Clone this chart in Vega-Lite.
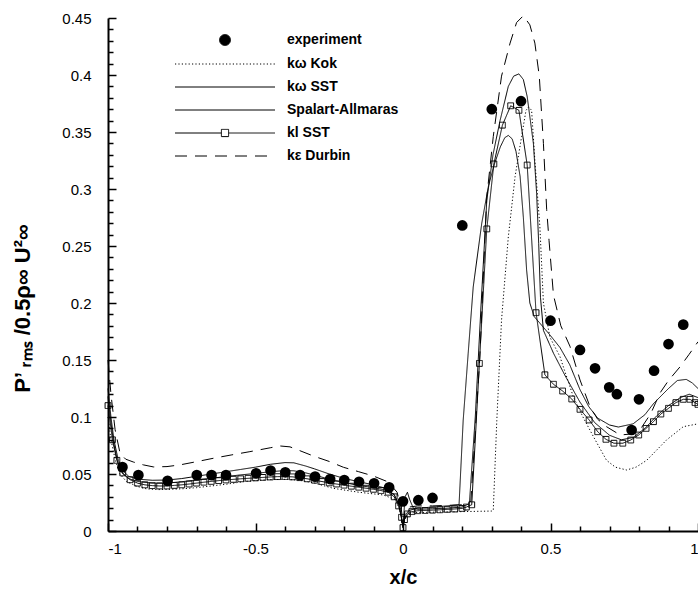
{
  "$schema": "https://vega.github.io/schema/vega-lite/v6.json",
  "width": 590,
  "height": 513,
  "autosize": {"type": "none"},
  "padding": {"left": 108, "top": 18, "right": 0, "bottom": 59},
  "config": {
    "view": {"stroke": null},
    "font": "Liberation Sans",
    "axis": {"grid": false, "domainColor": "black", "domainWidth": 2, "tickColor": "black", "tickWidth": 1.5, "labelColor": "black", "labelFontSize": 15, "labelFont": "Liberation Sans", "titleColor": "black", "titleFont": "Liberation Sans", "titleFontWeight": "bold", "titleFontSize": 20}
  },
  "datasets": {
    "exp": [
      {"x": -0.951, "y": 0.056}, {"x": -0.897, "y": 0.049}, {"x": -0.798, "y": 0.044}, {"x": -0.699, "y": 0.049},
      {"x": -0.649, "y": 0.049}, {"x": -0.6, "y": 0.049}, {"x": -0.498, "y": 0.0506}, {"x": -0.449, "y": 0.053},
      {"x": -0.399, "y": 0.0515}, {"x": -0.349, "y": 0.049}, {"x": -0.298, "y": 0.0477}, {"x": -0.247, "y": 0.0456},
      {"x": -0.199, "y": 0.0447}, {"x": -0.149, "y": 0.0432}, {"x": -0.098, "y": 0.0418}, {"x": -0.047, "y": 0.0383},
      {"x": 0.0, "y": 0.026}, {"x": 0.052, "y": 0.027}, {"x": 0.1, "y": 0.029}, {"x": 0.201, "y": 0.268},
      {"x": 0.301, "y": 0.37}, {"x": 0.4, "y": 0.377}, {"x": 0.5, "y": 0.1845}, {"x": 0.6, "y": 0.1588},
      {"x": 0.651, "y": 0.1427}, {"x": 0.699, "y": 0.126}, {"x": 0.725, "y": 0.12}, {"x": 0.775, "y": 0.0886},
      {"x": 0.8, "y": 0.1155}, {"x": 0.851, "y": 0.1406}, {"x": 0.9, "y": 0.164}, {"x": 0.95, "y": 0.181}
    ],
    "kl": [
      {"x": -1, "y": 0.11}, {"x": -0.985, "y": 0.08}, {"x": -0.97, "y": 0.062}, {"x": -0.95, "y": 0.051}, {"x": -0.925, "y": 0.045},
      {"x": -0.9, "y": 0.042}, {"x": -0.875, "y": 0.0405}, {"x": -0.85, "y": 0.0398}, {"x": -0.825, "y": 0.0395}, {"x": -0.8, "y": 0.0395},
      {"x": -0.775, "y": 0.04}, {"x": -0.75, "y": 0.0405}, {"x": -0.725, "y": 0.0412}, {"x": -0.7, "y": 0.042}, {"x": -0.675, "y": 0.0428},
      {"x": -0.65, "y": 0.0435}, {"x": -0.625, "y": 0.0442}, {"x": -0.6, "y": 0.0448}, {"x": -0.575, "y": 0.0453}, {"x": -0.55, "y": 0.0458},
      {"x": -0.525, "y": 0.0462}, {"x": -0.5, "y": 0.0466}, {"x": -0.475, "y": 0.047}, {"x": -0.45, "y": 0.0474}, {"x": -0.425, "y": 0.0477},
      {"x": -0.4, "y": 0.0478}, {"x": -0.375, "y": 0.0475}, {"x": -0.35, "y": 0.0468}, {"x": -0.325, "y": 0.0458}, {"x": -0.3, "y": 0.0446},
      {"x": -0.275, "y": 0.0434}, {"x": -0.25, "y": 0.0422}, {"x": -0.225, "y": 0.0412}, {"x": -0.2, "y": 0.0402}, {"x": -0.175, "y": 0.0393},
      {"x": -0.15, "y": 0.0384}, {"x": -0.125, "y": 0.0375}, {"x": -0.1, "y": 0.0366}, {"x": -0.075, "y": 0.0355}, {"x": -0.05, "y": 0.034},
      {"x": -0.03, "y": 0.03}, {"x": -0.015, "y": 0.022}, {"x": -0.005, "y": 0.012}, {"x": 0, "y": 0.003}, {"x": 0.005, "y": 0.01},
      {"x": 0.015, "y": 0.015}, {"x": 0.03, "y": 0.017}, {"x": 0.05, "y": 0.0178}, {"x": 0.075, "y": 0.018}, {"x": 0.1, "y": 0.0183},
      {"x": 0.125, "y": 0.0186}, {"x": 0.15, "y": 0.019}, {"x": 0.175, "y": 0.0193}, {"x": 0.2, "y": 0.0198}, {"x": 0.215, "y": 0.021},
      {"x": 0.233, "y": 0.023}, {"x": 0.259, "y": 0.147}, {"x": 0.284, "y": 0.265}, {"x": 0.308, "y": 0.322}, {"x": 0.337, "y": 0.356},
      {"x": 0.365, "y": 0.373}, {"x": 0.393, "y": 0.369}, {"x": 0.421, "y": 0.321}, {"x": 0.451, "y": 0.1915}, {"x": 0.481, "y": 0.137},
      {"x": 0.51, "y": 0.1287}, {"x": 0.541, "y": 0.1228}, {"x": 0.572, "y": 0.1158}, {"x": 0.6, "y": 0.1067}, {"x": 0.631, "y": 0.0974},
      {"x": 0.66, "y": 0.0871}, {"x": 0.688, "y": 0.0804}, {"x": 0.715, "y": 0.077}, {"x": 0.745, "y": 0.077}, {"x": 0.772, "y": 0.0798},
      {"x": 0.799, "y": 0.0842}, {"x": 0.824, "y": 0.09}, {"x": 0.849, "y": 0.0959}, {"x": 0.874, "y": 0.1026}, {"x": 0.9, "y": 0.1076},
      {"x": 0.925, "y": 0.1126}, {"x": 0.95, "y": 0.1155}, {"x": 0.973, "y": 0.1155}, {"x": 0.99, "y": 0.1126}, {"x": 1.0, "y": 0.111}
    ],
    "sst": [
      {"x": -1, "y": 0.125}, {"x": -0.99, "y": 0.1}, {"x": -0.98, "y": 0.08}, {"x": -0.965, "y": 0.062}, {"x": -0.95, "y": 0.053},
      {"x": -0.93, "y": 0.048}, {"x": -0.9, "y": 0.0455}, {"x": -0.85, "y": 0.0445}, {"x": -0.8, "y": 0.0447}, {"x": -0.75, "y": 0.046},
      {"x": -0.7, "y": 0.048}, {"x": -0.65, "y": 0.05}, {"x": -0.6, "y": 0.052}, {"x": -0.55, "y": 0.054}, {"x": -0.5, "y": 0.056},
      {"x": -0.45, "y": 0.0585}, {"x": -0.4, "y": 0.06}, {"x": -0.37, "y": 0.0598}, {"x": -0.33, "y": 0.057}, {"x": -0.3, "y": 0.0545},
      {"x": -0.25, "y": 0.05}, {"x": -0.2, "y": 0.0462}, {"x": -0.15, "y": 0.0432}, {"x": -0.1, "y": 0.0405}, {"x": -0.06, "y": 0.0375},
      {"x": -0.03, "y": 0.032}, {"x": -0.012, "y": 0.022}, {"x": 0, "y": 0.003}, {"x": 0.008, "y": 0.014}, {"x": 0.02, "y": 0.018},
      {"x": 0.05, "y": 0.02}, {"x": 0.1, "y": 0.021}, {"x": 0.15, "y": 0.022}, {"x": 0.19, "y": 0.023}, {"x": 0.204, "y": 0.097},
      {"x": 0.221, "y": 0.156}, {"x": 0.238, "y": 0.214}, {"x": 0.267, "y": 0.27}, {"x": 0.29, "y": 0.303}, {"x": 0.31, "y": 0.322},
      {"x": 0.33, "y": 0.337}, {"x": 0.345, "y": 0.345}, {"x": 0.357, "y": 0.347}, {"x": 0.37, "y": 0.344}, {"x": 0.383, "y": 0.333},
      {"x": 0.397, "y": 0.311}, {"x": 0.408, "y": 0.275}, {"x": 0.419, "y": 0.229}, {"x": 0.43, "y": 0.2}, {"x": 0.445, "y": 0.188},
      {"x": 0.465, "y": 0.182}, {"x": 0.498, "y": 0.172}, {"x": 0.532, "y": 0.161}, {"x": 0.565, "y": 0.146}, {"x": 0.6, "y": 0.124},
      {"x": 0.63, "y": 0.109}, {"x": 0.66, "y": 0.099}, {"x": 0.7, "y": 0.093}, {"x": 0.73, "y": 0.0912}, {"x": 0.78, "y": 0.094},
      {"x": 0.82, "y": 0.102}, {"x": 0.85, "y": 0.112}, {"x": 0.9, "y": 0.125}, {"x": 0.93, "y": 0.132}, {"x": 0.96, "y": 0.133},
      {"x": 0.98, "y": 0.13}, {"x": 1.0, "y": 0.125}
    ],
    "sa": [
      {"x": -1, "y": 0.118}, {"x": -0.99, "y": 0.095}, {"x": -0.98, "y": 0.076}, {"x": -0.965, "y": 0.058}, {"x": -0.95, "y": 0.05},
      {"x": -0.93, "y": 0.046}, {"x": -0.9, "y": 0.0435}, {"x": -0.85, "y": 0.042}, {"x": -0.8, "y": 0.042}, {"x": -0.75, "y": 0.0432},
      {"x": -0.7, "y": 0.0448}, {"x": -0.65, "y": 0.0462}, {"x": -0.6, "y": 0.0478}, {"x": -0.55, "y": 0.0492}, {"x": -0.5, "y": 0.0505},
      {"x": -0.45, "y": 0.052}, {"x": -0.4, "y": 0.053}, {"x": -0.37, "y": 0.0528}, {"x": -0.33, "y": 0.051}, {"x": -0.3, "y": 0.049},
      {"x": -0.25, "y": 0.0455}, {"x": -0.2, "y": 0.0425}, {"x": -0.15, "y": 0.04}, {"x": -0.1, "y": 0.038}, {"x": -0.06, "y": 0.036},
      {"x": -0.03, "y": 0.032}, {"x": -0.012, "y": 0.022}, {"x": 0, "y": 0.004}, {"x": 0.007, "y": 0.03}, {"x": 0.015, "y": 0.034},
      {"x": 0.022, "y": 0.028}, {"x": 0.035, "y": 0.02}, {"x": 0.05, "y": 0.019}, {"x": 0.1, "y": 0.0195}, {"x": 0.15, "y": 0.02},
      {"x": 0.2, "y": 0.021}, {"x": 0.225, "y": 0.024}, {"x": 0.245, "y": 0.1}, {"x": 0.265, "y": 0.2}, {"x": 0.284, "y": 0.29},
      {"x": 0.305, "y": 0.33}, {"x": 0.329, "y": 0.36}, {"x": 0.357, "y": 0.39}, {"x": 0.375, "y": 0.399}, {"x": 0.393, "y": 0.401},
      {"x": 0.408, "y": 0.396}, {"x": 0.421, "y": 0.381}, {"x": 0.442, "y": 0.34}, {"x": 0.453, "y": 0.296}, {"x": 0.46, "y": 0.252},
      {"x": 0.466, "y": 0.205}, {"x": 0.476, "y": 0.176}, {"x": 0.51, "y": 0.156}, {"x": 0.55, "y": 0.136}, {"x": 0.6, "y": 0.113},
      {"x": 0.65, "y": 0.095}, {"x": 0.7, "y": 0.084}, {"x": 0.74, "y": 0.08}, {"x": 0.78, "y": 0.082}, {"x": 0.82, "y": 0.09},
      {"x": 0.86, "y": 0.101}, {"x": 0.9, "y": 0.11}, {"x": 0.94, "y": 0.117}, {"x": 0.97, "y": 0.12}, {"x": 1.0, "y": 0.117}
    ],
    "kok": [
      {"x": -1, "y": 0.1}, {"x": -0.99, "y": 0.08}, {"x": -0.975, "y": 0.062}, {"x": -0.96, "y": 0.05}, {"x": -0.937, "y": 0.0433},
      {"x": -0.9, "y": 0.039}, {"x": -0.87, "y": 0.037}, {"x": -0.83, "y": 0.0363}, {"x": -0.8, "y": 0.0365}, {"x": -0.75, "y": 0.037},
      {"x": -0.7, "y": 0.038}, {"x": -0.65, "y": 0.0395}, {"x": -0.6, "y": 0.041}, {"x": -0.541, "y": 0.0433}, {"x": -0.5, "y": 0.0443},
      {"x": -0.45, "y": 0.0451}, {"x": -0.394, "y": 0.0453}, {"x": -0.35, "y": 0.0445}, {"x": -0.3, "y": 0.042}, {"x": -0.236, "y": 0.0374},
      {"x": -0.15, "y": 0.034}, {"x": -0.067, "y": 0.0316}, {"x": -0.03, "y": 0.028}, {"x": -0.012, "y": 0.02}, {"x": 0, "y": 0.004},
      {"x": 0.01, "y": 0.013}, {"x": 0.03, "y": 0.016}, {"x": 0.1, "y": 0.0165}, {"x": 0.2, "y": 0.017}, {"x": 0.3, "y": 0.0175},
      {"x": 0.306, "y": 0.018}, {"x": 0.318, "y": 0.097}, {"x": 0.334, "y": 0.185}, {"x": 0.357, "y": 0.258}, {"x": 0.38, "y": 0.311},
      {"x": 0.402, "y": 0.346}, {"x": 0.417, "y": 0.369}, {"x": 0.426, "y": 0.372}, {"x": 0.436, "y": 0.369}, {"x": 0.447, "y": 0.325},
      {"x": 0.464, "y": 0.267}, {"x": 0.476, "y": 0.2}, {"x": 0.498, "y": 0.17}, {"x": 0.532, "y": 0.153}, {"x": 0.577, "y": 0.118},
      {"x": 0.61, "y": 0.1}, {"x": 0.645, "y": 0.083}, {"x": 0.69, "y": 0.062}, {"x": 0.72, "y": 0.056}, {"x": 0.758, "y": 0.0535},
      {"x": 0.79, "y": 0.056}, {"x": 0.826, "y": 0.062}, {"x": 0.86, "y": 0.071}, {"x": 0.894, "y": 0.08}, {"x": 0.95, "y": 0.0915},
      {"x": 1.0, "y": 0.094}
    ],
    "durbin": [
      {"x": -1, "y": 0.15}, {"x": -0.99, "y": 0.12}, {"x": -0.976, "y": 0.089}, {"x": -0.959, "y": 0.068}, {"x": -0.94, "y": 0.063},
      {"x": -0.914, "y": 0.0605}, {"x": -0.88, "y": 0.058}, {"x": -0.846, "y": 0.0562}, {"x": -0.8, "y": 0.0565}, {"x": -0.756, "y": 0.058},
      {"x": -0.7, "y": 0.0608}, {"x": -0.643, "y": 0.0638}, {"x": -0.58, "y": 0.0668}, {"x": -0.519, "y": 0.0696}, {"x": -0.45, "y": 0.073},
      {"x": -0.417, "y": 0.0746}, {"x": -0.383, "y": 0.0738}, {"x": -0.35, "y": 0.0705}, {"x": -0.304, "y": 0.0658}, {"x": -0.25, "y": 0.061},
      {"x": -0.202, "y": 0.0559}, {"x": -0.15, "y": 0.052}, {"x": -0.1, "y": 0.0482}, {"x": -0.05, "y": 0.043}, {"x": -0.02, "y": 0.034},
      {"x": -0.006, "y": 0.02}, {"x": 0, "y": 0.006}, {"x": 0.008, "y": 0.018}, {"x": 0.02, "y": 0.021}, {"x": 0.05, "y": 0.022},
      {"x": 0.1, "y": 0.022}, {"x": 0.15, "y": 0.0225}, {"x": 0.2, "y": 0.023}, {"x": 0.23, "y": 0.026}, {"x": 0.26, "y": 0.15},
      {"x": 0.284, "y": 0.293}, {"x": 0.306, "y": 0.346}, {"x": 0.334, "y": 0.399}, {"x": 0.363, "y": 0.428}, {"x": 0.385, "y": 0.446},
      {"x": 0.408, "y": 0.452}, {"x": 0.43, "y": 0.444}, {"x": 0.447, "y": 0.428}, {"x": 0.462, "y": 0.399}, {"x": 0.476, "y": 0.34},
      {"x": 0.487, "y": 0.282}, {"x": 0.495, "y": 0.255}, {"x": 0.51, "y": 0.207}, {"x": 0.535, "y": 0.18}, {"x": 0.566, "y": 0.162},
      {"x": 0.6, "y": 0.1325}, {"x": 0.634, "y": 0.109}, {"x": 0.66, "y": 0.098}, {"x": 0.69, "y": 0.0915}, {"x": 0.736, "y": 0.0842},
      {"x": 0.77, "y": 0.085}, {"x": 0.803, "y": 0.0886}, {"x": 0.84, "y": 0.103}, {"x": 0.871, "y": 0.121}, {"x": 0.9, "y": 0.132},
      {"x": 0.939, "y": 0.144}, {"x": 0.97, "y": 0.155}, {"x": 1.0, "y": 0.166}
    ]
  },
  "layer": [
    {
      "data": {"name": "exp"},
      "mark": {"type": "point", "opacity": 0},
      "encoding": {
        "x": {"field": "x", "type": "quantitative", "scale": {"domain": [-1, 1], "nice": false, "zero": false},
          "axis": {"orient": "bottom", "values": [-0.9, -0.8, -0.7, -0.6, -0.4, -0.3, -0.2, -0.1, 0.1, 0.2, 0.3, 0.4, 0.6, 0.7, 0.8, 0.9], "labels": false, "domain": false, "tickSize": -5, "title": null}},
        "y": {"field": "y", "type": "quantitative", "scale": {"domain": [0, 0.45], "nice": false},
          "axis": {"orient": "left", "values": [0.01, 0.02, 0.03, 0.04, 0.06, 0.07, 0.08, 0.09, 0.11, 0.12, 0.13, 0.14, 0.16, 0.17, 0.18, 0.19, 0.21, 0.22, 0.23, 0.24, 0.26, 0.27, 0.28, 0.29, 0.31, 0.32, 0.33, 0.34, 0.36, 0.37, 0.38, 0.39, 0.41, 0.42, 0.43, 0.44], "labels": false, "domain": false, "tickSize": -5, "title": null}}
      }
    },
    {
      "layer": [
        {"data": {"name": "kok"}, "transform": [{"calculate": "'kω Kok'", "as": "m"}], "mark": {"type": "line", "color": "black"}, "encoding": {}},
        {"data": {"name": "sst"}, "transform": [{"calculate": "'kω SST'", "as": "m"}], "mark": {"type": "line", "color": "black"}, "encoding": {}},
        {"data": {"name": "sa"}, "transform": [{"calculate": "'Spalart-Allmaras'", "as": "m"}], "mark": {"type": "line", "color": "black"}, "encoding": {}},
        {"data": {"name": "kl"}, "transform": [{"calculate": "'kl SST'", "as": "m"}], "mark": {"type": "line", "color": "black", "point": {"shape": "square", "filled": false, "size": 34, "strokeWidth": 1, "color": "black"}}, "encoding": {}},
        {"data": {"name": "durbin"}, "transform": [{"calculate": "'kε Durbin'", "as": "m"}], "mark": {"type": "line", "color": "black"}, "encoding": {}}
      ],
      "encoding": {
        "x": {"field": "x", "type": "quantitative", "scale": {"domain": [-1, 1], "nice": false, "zero": false},
          "axis": {"orient": "bottom", "values": [-1, -0.5, 0, 0.5, 1], "labelExpr": "'' + datum.value", "tickSize": -8, "labelPadding": 18, "title": "x/c", "titleY": 46, "titleBaseline": "middle"}},
        "y": {"field": "y", "type": "quantitative", "scale": {"domain": [0, 0.45], "nice": false},
          "axis": {"orient": "left", "values": [0, 0.05, 0.1, 0.15, 0.2, 0.25, 0.3, 0.35, 0.4, 0.45], "labelExpr": "'' + datum.value", "tickSize": -8, "labelPadding": 25, "title": "P’ ᵣₘₛ /0.5ρ∞ U²∞", "titleFontSize": 22, "titleX": -86, "titleY": 290, "titleBaseline": "middle", "titleAngle": -90}},
        "strokeDash": {"field": "m", "type": "nominal",
          "scale": {"domain": ["experiment", "kω Kok", "kω SST", "Spalart-Allmaras", "kl SST", "kε Durbin"], "range": [[1, 0], [1.2, 2.2], [1, 0], [1, 0], [1, 0], [12, 8]]},
          "legend": {
            "title": null, "orient": "none", "legendX": 110, "legendY": 15, "padding": 0,
            "symbolSize": 64, "labelOffset": 55, "rowPadding": 9,
            "labelFontSize": 14, "labelFontWeight": "bold", "labelFont": "Liberation Sans", "labelColor": "black",
            "symbolStrokeColor": "black", "symbolFillColor": "transparent",
            "encode": {
              "symbols": {
                "update": {
                  "shape": {"signal": "datum.value === 'experiment' ? 'circle' : (datum.value === 'kl SST' ? 'M-12.5,0H-0.9M0.9,0H12.5M-0.9,-0.9H0.9V0.9H-0.9Z' : 'M-12.5,0H12.5')"},
                  "size": {"signal": "datum.value === 'experiment' ? 120 : 64"},
                  "fill": {"signal": "datum.value === 'experiment' ? 'black' : 'transparent'"},
                  "stroke": {"value": "black"},
                  "strokeWidth": {"signal": "datum.value === 'experiment' ? 0 : (datum.value === 'kω SST' ? 2 : 1.1)"}
                }
              }
            }
          }},
        "strokeWidth": {"field": "m", "type": "nominal",
          "scale": {"domain": ["experiment", "kω Kok", "kω SST", "Spalart-Allmaras", "kl SST", "kε Durbin"], "range": [1, 1, 2, 1.1, 1.1, 1.1]},
          "legend": null}
      }
    },
    {
      "data": {"name": "exp"},
      "mark": {"type": "circle", "color": "black", "opacity": 1, "size": 115},
      "encoding": {
        "x": {"field": "x", "type": "quantitative", "axis": null},
        "y": {"field": "y", "type": "quantitative", "axis": null}
      }
    }
  ],
  "resolve": {"axis": {"x": "independent", "y": "independent"}}
}
